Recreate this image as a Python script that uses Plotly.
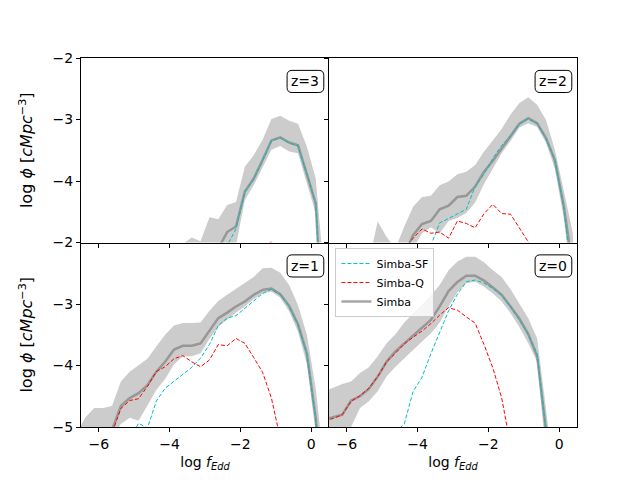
import plotly.graph_objects as go
from plotly.subplots import make_subplots

# log f_Edd bin centres
log_fedd = [-6.625, -6.375, -6.125, -5.875, -5.625, -5.375, -5.125, -4.875, -4.625, -4.375,
            -4.125, -3.875, -3.625, -3.375, -3.125, -2.875, -2.625, -2.375, -2.125, -1.875,
            -1.625, -1.375, -1.125, -0.875, -0.625, -0.375, -0.125, 0.125, 0.375, 0.625]

# z=3
simba_z3 = [-6, -6, -6, -6, -6, -6, -6, -6, -6, -6, -6, -6, -6, -6, -6, -5.6, -5.1, -4.83, -4.74, -4.17,
            -3.96, -3.66, -3.34, -3.29, -3.375, -3.42, -3.875, -4.36, -7, -7]
hi_z3 = [-6, -6, -6, -6, -6, -6, -6, -6, -6, -5.5, -5.3, -5.1, -5.02, -4.92, -4.98, -4.59, -4.62, -4.39, -4.34, -3.77,
         -3.58, -3.33, -2.99, -2.94, -3.02, -3.07, -3.44, -3.96, -5.6, -7]
lo_z3 = [-6, -6, -6, -6, -6, -6, -6, -6, -6, -6, -6, -6, -6, -6, -6, -6, -6, -6, -5.05, -4.31,
         -4.07, -3.79, -3.49, -3.43, -3.52, -3.55, -4.04, -4.53, -7, -7]
sf_z3 = [-6, -6, -6, -6, -6, -6, -6, -6, -6, -6, -6, -6, -6, -6, -6, -6, -6, -5.05, -4.78, -4.18,
         -3.97, -3.67, -3.35, -3.30, -3.38, -3.43, -3.88, -4.38, -7, -7]
q_z3 = [-6, -6, -6, -6, -6, -6, -6, -6, -6, -6, -6, -6, -6, -6, -6, -6, -6, -6, -6, -5.6,
        -5.3, -5.15, -4.98, -5.3, -5.6, -6, -6, -6.5, -7, -7]

# z=2
simba_z2 = [-6, -6, -6, -6, -6, -6, -6, -6, -6, -5.2, -4.88, -4.70, -4.65, -4.46, -4.40, -4.26, -4.24, -4.09, -3.85, -3.67,
            -3.46, -3.27, -3.07, -2.98, -3.06, -3.30, -3.66, -4.40, -5.4, -7]
hi_z2 = [-6, -6, -6, -6, -6, -5.3, -4.66, -4.91, -5.1, -4.74, -4.42, -4.26, -4.24, -4.07, -4.01, -3.89, -3.85, -3.74, -3.52, -3.34,
         -3.15, -2.92, -2.73, -2.64, -2.76, -3.01, -3.49, -4.15, -4.83, -7]
lo_z2 = [-6, -6, -6, -6, -6, -6, -6, -6, -6, -6, -5.1, -4.85, -4.75, -4.85, -4.65, -4.60, -4.52, -4.35, -4.05, -3.80,
         -3.55, -3.35, -3.13, -3.06, -3.12, -3.38, -3.80, -4.60, -5.7, -7]
sf_z2 = [-6, -6, -6, -6, -6, -6, -6, -6, -6, -6, -6, -6, -5.05, -4.68, -4.61, -4.54, -4.46, -4.09, -3.89, -3.63,
         -3.42, -3.27, -3.07, -2.99, -3.07, -3.31, -3.67, -4.41, -5.4, -7]
q_z2 = [-6, -6, -6, -6, -6, -6, -6, -6, -6, -5.1, -4.93, -4.78, -4.85, -4.83, -4.93, -4.65, -4.69, -4.76, -4.53, -4.38,
        -4.53, -4.54, -4.77, -4.99, -5.3, -6, -6.5, -7, -7, -7]

# z=1
simba_z1 = [-6, -6, -6, -6, -5.05, -4.66, -4.53, -4.45, -4.32, -4.10, -3.94, -3.74, -3.68, -3.68, -3.64, -3.43, -3.23, -3.14, -3.04, -2.96,
            -2.85, -2.77, -2.75, -2.84, -3.03, -3.33, -3.80, -4.85, -6.5, -7]
hi_z1 = [-5.1, -4.84, -4.69, -4.69, -4.66, -4.26, -4.10, -3.99, -3.89, -3.69, -3.50, -3.35, -3.31, -3.31, -3.30, -3.11, -2.95, -2.85, -2.75, -2.66,
         -2.56, -2.42, -2.41, -2.49, -2.69, -3.02, -3.50, -4.37, -6, -7]
lo_z1 = [-6, -6, -6, -6, -5.2, -4.95, -4.85, -4.90, -4.65, -4.40, -4.22, -3.98, -3.85, -3.85, -3.80, -3.57, -3.37, -3.25, -3.14, -3.04,
         -2.92, -2.83, -2.80, -2.90, -3.12, -3.45, -3.98, -5.1, -7, -7]
sf_z1 = [-6, -6, -6, -6, -6, -6, -5.2, -4.94, -5.02, -4.58, -4.37, -4.26, -4.15, -4.03, -3.88, -3.66, -3.35, -3.23, -3.19, -3.07,
         -2.94, -2.83, -2.76, -2.85, -3.04, -3.34, -3.82, -4.88, -6.5, -7]
q_z1 = [-6, -6, -6, -6, -5.1, -4.70, -4.57, -4.54, -4.34, -4.10, -4.02, -3.89, -3.84, -3.94, -4.02, -3.91, -3.66, -3.68, -3.56, -3.64,
        -3.87, -4.11, -4.53, -5.3, -6, -6.5, -7, -7, -7, -7]

# z=0
simba_z0 = [-4.88, -4.84, -4.80, -4.57, -4.50, -4.38, -4.18, -3.94, -3.77, -3.64, -3.51, -3.39, -3.26, -3.04, -2.79, -2.64, -2.54, -2.54, -2.62, -2.73,
            -2.85, -3.04, -3.24, -3.49, -3.85, -5.05, -6.5, -7, -7, -7]
hi_z0 = [-4.42, -4.36, -4.30, -4.26, -4.12, -4.03, -3.85, -3.64, -3.49, -3.30, -3.15, -3.00, -2.86, -2.69, -2.45, -2.31, -2.23, -2.23, -2.32, -2.45,
         -2.56, -2.76, -2.99, -3.23, -3.56, -4.8, -6, -7, -7, -7]
lo_z0 = [-5.1, -5.05, -5.05, -5.0, -4.69, -4.58, -4.42, -4.18, -4.02, -3.88, -3.75, -3.61, -3.48, -3.30, -3.04, -2.81, -2.66, -2.64, -2.72, -2.83,
         -2.96, -3.15, -3.38, -3.64, -3.94, -5.5, -7, -7, -7, -7]
sf_z0 = [-7, -7, -7, -7, -7, -7, -7, -7, -5.08, -4.95, -4.42, -4.19, -3.81, -3.46, -3.11, -2.84, -2.64, -2.61, -2.66, -2.75,
         -2.86, -3.05, -3.26, -3.50, -3.81, -5.05, -6.5, -7, -7, -7]
q_z0 = [-4.90, -4.86, -4.80, -4.58, -4.49, -4.37, -4.18, -3.94, -3.80, -3.65, -3.54, -3.44, -3.32, -3.18, -3.06, -3.10, -3.21, -3.31, -3.66, -4.04,
        -4.53, -5.3, -6.5, -7, -7, -7, -7, -7, -7, -7]

panels = [
    ("z=3", 1, 1, simba_z3, hi_z3, lo_z3, sf_z3, q_z3),
    ("z=2", 1, 2, simba_z2, hi_z2, lo_z2, sf_z2, q_z2),
    ("z=1", 2, 1, simba_z1, hi_z1, lo_z1, sf_z1, q_z1),
    ("z=0", 2, 2, simba_z0, hi_z0, lo_z0, sf_z0, q_z0),
]

FONT = "DejaVu Sans"

fig = make_subplots(rows=2, cols=2, shared_xaxes=True, shared_yaxes=True,
                    horizontal_spacing=0, vertical_spacing=0)

for label, r, c, simba, hi, lo, sf, q in panels:
    legend_on = (label == "z=0")
    # spread band
    fig.add_trace(go.Scatter(x=log_fedd, y=lo, mode="lines", line=dict(width=0),
                             showlegend=False, hoverinfo="skip"), row=r, col=c)
    fig.add_trace(go.Scatter(x=log_fedd, y=hi, mode="lines", line=dict(width=0),
                             fill="tonexty", fillcolor="#cccccc",
                             showlegend=False, hoverinfo="skip"), row=r, col=c)
    fig.add_trace(go.Scatter(x=log_fedd, y=simba, mode="lines", name="Simba",
                             line=dict(color="rgba(128,128,128,0.7)", width=2.5),
                             showlegend=legend_on, legendrank=3), row=r, col=c)
    fig.add_trace(go.Scatter(x=log_fedd, y=sf, mode="lines", name="Simba-SF",
                             line=dict(color="#00bfbf", width=1, dash="4px,2px"),
                             showlegend=legend_on, legendrank=1), row=r, col=c)
    fig.add_trace(go.Scatter(x=log_fedd, y=q, mode="lines", name="Simba-Q",
                             line=dict(color="#ff0000", width=1, dash="4px,2px"),
                             showlegend=legend_on, legendrank=2), row=r, col=c)

axis_style = dict(showline=True, linecolor="black", linewidth=1,
                  ticks="outside", ticklen=4, tickcolor="black", showgrid=False,
                  zeroline=False, automargin=False,
                  tickfont=dict(family=FONT, size=14, color="black"))

fig.update_xaxes(range=[-6.5, 0.5], tickvals=[-6, -4, -2, 0], **axis_style)
fig.update_yaxes(range=[-5, -2], **axis_style)
# draw each shared border only once
fig.update_xaxes(mirror=True, row=1)
fig.update_xaxes(mirror=False, row=2)
fig.update_yaxes(mirror=False, col=1)
fig.update_yaxes(mirror=True, col=2)
fig.update_yaxes(tickvals=[-4, -3, -2], row=1)
fig.update_yaxes(tickvals=[-5, -4, -3, -2], row=2)

ytitle = dict(text="log <i>ϕ</i> [<i>cMpc</i><sup>−3</sup>]",
              font=dict(family=FONT, size=16, color="black"))
fig.update_yaxes(title=ytitle, row=1, col=1)
fig.update_yaxes(title=ytitle, row=2, col=1)
xtitle = dict(text="log <i>f<sub>Edd</sub></i>",
              font=dict(family=FONT, size=14, color="black"))
fig.update_xaxes(title=xtitle, row=2, col=1)
fig.update_xaxes(title=xtitle, row=2, col=2)

# redshift labels in rounded boxes (box given in axis-domain units)
axis_refs = {(1, 1): "", (1, 2): "2", (2, 1): "3", (2, 2): "4"}
bx0, bx1, by0, by1 = 0.831, 0.979, 0.813, 0.933
rx, ry = 5 / 248, 5 / 184
box_path = (f"M {bx0 + rx},{by0} L {bx1 - rx},{by0} Q {bx1},{by0} {bx1},{by0 + ry} "
            f"L {bx1},{by1 - ry} Q {bx1},{by1} {bx1 - rx},{by1} "
            f"L {bx0 + rx},{by1} Q {bx0},{by1} {bx0},{by1 - ry} "
            f"L {bx0},{by0 + ry} Q {bx0},{by0} {bx0 + rx},{by0} Z")
for label, r, c, *_ in panels:
    n = axis_refs[(r, c)]
    fig.add_shape(type="path", path=box_path, xref=f"x{n} domain", yref=f"y{n} domain",
                  line=dict(color="black", width=1), fillcolor="white", layer="above")
    fig.add_annotation(text=label, xref=f"x{n} domain", yref=f"y{n} domain",
                       x=(bx0 + bx1) / 2, y=(by0 + by1) / 2, xanchor="center", yanchor="middle",
                       showarrow=False, font=dict(family=FONT, size=14, color="black"))

# page body keeps an 8px margin, so the figure is sized to fit inside the window
fig.update_layout(
    width=624, height=464,
    margin=dict(l=73, r=55, t=50, b=45),
    plot_bgcolor="white", paper_bgcolor="white",
    font=dict(family=FONT, color="black"),
    legend=dict(x=0.513, y=0.485, xanchor="left", yanchor="top", traceorder="normal",
                bgcolor="rgba(255,255,255,0.8)", bordercolor="#cccccc", borderwidth=1,
                font=dict(family=FONT, size=11, color="black"),
                tracegroupgap=0, itemwidth=30),
)

fig.write_html("out.html")
